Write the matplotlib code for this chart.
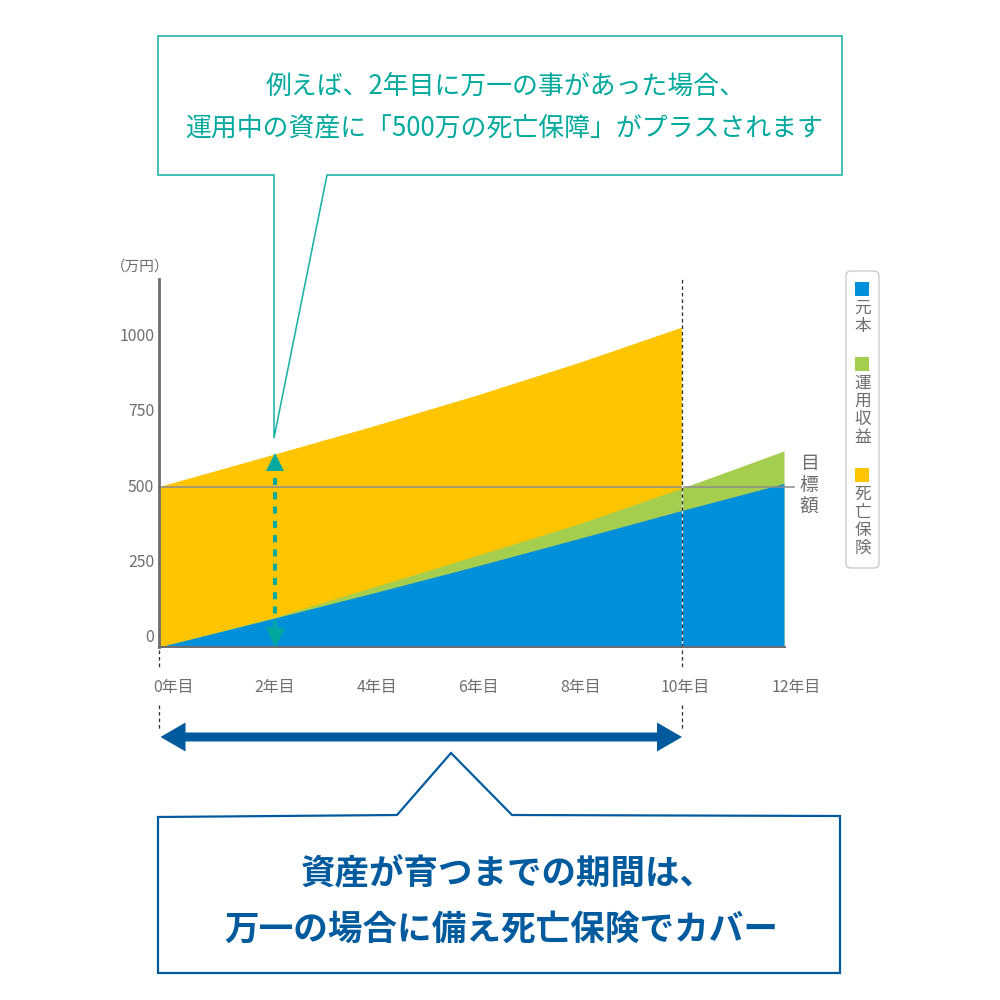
"""Insurance chart: principal, investment return and death cover over 12 years."""

import matplotlib

matplotlib.use("Agg")  # headless: save files instead of opening windows
import matplotlib.pyplot as plt
from matplotlib.patches import FancyArrow, FancyBboxPatch, Polygon, Rectangle
from matplotlib.transforms import ScaledTranslation

plt.rcParams["font.family"] = ["Noto Sans CJK JP", "DejaVu Sans"]

# Areas start a little left of, and below, the "0年目" / "0" labels in the picture.
YEARS = [-0.275, 2, 4, 6, 8, 10, 12]
PRINCIPAL = [-32, 64, 150, 238, 329, 421, 510]
WITH_RETURN = [-32, 67, 170, 273, 378, 495, 618]
COVER_YEARS = [-0.275, 2, 4, 6, 8, 10]
WITH_COVER = [500, 608, 704, 805, 913, 1029]

TARGET = 500
YEAR_TICKS = [0, 2, 4, 6, 8, 10, 12]
YEAR_LABELS = ["0年目", "2年目", "4年目", "6年目", "8年目", "10年目", "12年目"]
VALUE_TICKS = [0, 250, 500, 750, 1000]

LEGEND_LABELS = ["元本", "運用収益", "死亡保険"]
TOP_LINE_1 = "例えば、2年目に万一の事があった場合、"
TOP_LINE_2 = "運用中の資産に「500万の死亡保障」がプラスされます"
BOTTOM_LINE_1 = "資産が育つまでの期間は、"
BOTTOM_LINE_2 = "万一の場合に備え死亡保険でカバー"

BLUE = "#008fd9"
GREEN = "#a5cd4e"
ORANGE = "#ffc500"
GRAY = "#6d6e71"
TEAL = "#00a99d"
NAVY = "#005a9e"
PX = 0.72  # points per pixel at dpi=100

fig = plt.figure(figsize=(10, 10), dpi=100)
ax = fig.add_axes([0.159, 0.353, 0.626, 0.368])
ax.set_xlim(-0.275, 12.02)
ax.set_ylim(-32, 1188)

ax.fill_between(COVER_YEARS, WITH_COVER, -32, color=ORANGE, lw=0, zorder=1)
ax.fill_between(YEARS, WITH_RETURN, -32, color=GREEN, lw=0, zorder=2)
ax.fill_between(YEARS, PRINCIPAL, -32, color=BLUE, lw=0, zorder=3)

# 目標額 line runs slightly past the right end of the areas.
ax.plot([-0.275, 12.2], [TARGET, TARGET], color="#8c8c8c", alpha=0.85,
        lw=1.8 * PX, clip_on=False, zorder=4)

# 10-year marker: white underlay so the dashes read on the fills.
ax.plot([10, 10], [-32, 1029], color="white", lw=1.2 * PX, zorder=5)
ax.plot([10, 10], [-32, 1188], color="#333333", lw=1.3 * PX,
        linestyle=(0, (2.8, 2.2)), zorder=6)

# Teal double arrow at year 2.
ax.plot([2, 2], [529, 34], color=TEAL, lw=4 * PX, linestyle=(0, (1.75, 1.82)),
        dash_capstyle="butt", zorder=7)
ax.plot([2], [580], marker="^", ms=18 * PX, color=TEAL, mew=0, zorder=7)
ax.plot([2], [0], marker="v", ms=19 * PX, color=TEAL, mew=0, zorder=7)

for side in ("top", "right"):
    ax.spines[side].set_visible(False)
ax.spines["left"].set_color(GRAY)
ax.spines["left"].set_linewidth(2.8 * PX)
ax.spines["bottom"].set_color(GRAY)
ax.spines["bottom"].set_linewidth(2 * PX)
ax.spines["bottom"].set_zorder(8)
ax.spines["left"].set_zorder(8)

ax.set_yticks(VALUE_TICKS)
ax.set_xticks(YEAR_TICKS)
ax.set_xticklabels(YEAR_LABELS)
ax.tick_params(axis="y", length=0, pad=3.5, labelsize=11.4, labelcolor=GRAY)
ax.tick_params(axis="x", length=0, pad=23, labelsize=11.4, labelcolor=GRAY)
# The last two year labels sit a bit right of their positions in the picture.
for label, shift in zip(ax.get_xticklabels()[-2:], (3, 12)):
    label.set_transform(label.get_transform()
                        + ScaledTranslation(shift / 100, 0, fig.dpi_scale_trans))
for label in ax.get_yticklabels():
    label.set_transform(label.get_transform()
                        + ScaledTranslation(0, 1.5 / 100, fig.dpi_scale_trans))

# Overlay in image pixels for callouts, legend and the span arrow.
over = fig.add_axes([0, 0, 1, 1])
over.set_xlim(0, 1000)
over.set_ylim(1000, 0)
over.axis("off")
over.patch.set_visible(False)

over.text(140, 267, "（万円）", color=GRAY, fontsize=10.5, ha="center", va="center")
over.text(809, 485, "目\n標\n額", color=GRAY, fontsize=13.5, ha="center", va="center",
          linespacing=1.05)

# Dashes continuing below the axis at year 0 and year 10.
for x in (159, 682):
    for y0, y1 in ((650, 667), (705, 730)):
        over.plot([x, x], [y0, y1], color="#333333", lw=1.3 * PX,
                  linestyle=(0, (2.8, 2.2)))

# Span arrow, one half each way.
for tip in (160.5, 682):
    over.add_patch(FancyArrow(421, 737, tip - 421, 0, width=9, head_width=29,
                              head_length=25, length_includes_head=True,
                              color=NAVY, lw=0))

over.add_patch(Polygon([(158, 36), (842, 36), (842, 175), (327, 175), (274, 438),
                        (274, 175), (158, 175)], closed=True, fill=False,
                       edgecolor="#1ab3a6", lw=1.6 * PX))
over.text(506, 86, TOP_LINE_1, color=TEAL, fontsize=18.6, ha="center", va="center")
over.text(503.5, 128, TOP_LINE_2, color=TEAL, fontsize=18.6, ha="center", va="center")

over.add_patch(Polygon([(158, 817), (397, 815), (451, 753), (512, 815), (840, 816),
                        (840, 973), (158, 973)], closed=True, fill=False,
                       edgecolor=NAVY, lw=2.2 * PX))
over.text(508, 873, BOTTOM_LINE_1, color=NAVY, fontsize=24.8, fontweight="bold",
          ha="center", va="center")
over.text(501.5, 929, BOTTOM_LINE_2, color=NAVY, fontsize=24.9, fontweight="bold",
          ha="center", va="center")

# Vertical legend.
over.add_patch(FancyBboxPatch((849, 274), 27, 291, boxstyle="round,pad=3,rounding_size=5",
                              facecolor="white", edgecolor="#c8c8c8", lw=1.3 * PX))
for label, colour, y in zip(LEGEND_LABELS, (BLUE, GREEN, ORANGE), (282, 357, 468)):
    over.add_patch(Rectangle((855, y), 14, 14, facecolor=colour, lw=0))
    over.text(862.5, y + 17.5, "\n".join(label), color=GRAY, fontsize=12,
              ha="center", va="top", linespacing=1.08)

fig.savefig("out.png", dpi=100)
plt.close(fig)
